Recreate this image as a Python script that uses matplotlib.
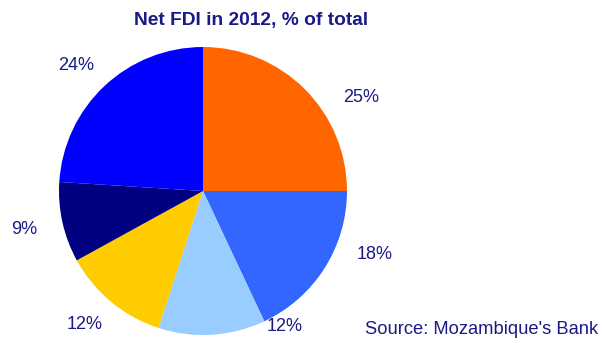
import matplotlib
matplotlib.use('Agg')
import matplotlib.pyplot as plt

plt.rcParams['font.family'] = ['Liberation Sans', 'DejaVu Sans']

shares = [25, 18, 12, 12, 9, 24]
labels = ['25%', '18%', '12%', '12%', '9%', '24%']
colors = ['#FF6600', '#3366FF', '#99CCFF', '#FFCC00', '#000080', '#0000FF']
title = 'Net FDI in 2012, % of total'
source = "Source: Mozambique's Bank"

# label positions in data units (pie radius = 1)
label_pos = [(1.10, 0.65), (1.19, -0.44), (0.57, -0.94),
             (-0.82, -0.93), (-1.24, -0.27), (-0.88, 0.87)]

W, H = 602, 343
fig = plt.figure(figsize=(W / 100, H / 100), dpi=100)
cx, cy, r = 203, 191, 144
ax = fig.add_axes([(cx - r) / W, (H - cy - r) / H, 2 * r / W, 2 * r / H])
ax.pie(shares, colors=colors, startangle=90, counterclock=False, radius=1,
       wedgeprops=dict(linewidth=0))
ax.set_xlim(-1, 1)
ax.set_ylim(-1, 1)
ax.set_aspect('equal')
ax.axis('off')

navy = '#1A1A86'
for lab, (x, y) in zip(labels, label_pos):
    ax.text(x, y, lab, ha='center', va='center', fontsize=13, color=navy, clip_on=False)

fig.text(251 / W, 1 - 21 / H, title, ha='center', va='center', fontsize=13.8,
         fontweight='bold', color=navy)
fig.text(598 / W, 1 - 330 / H, source, ha='right', va='center', fontsize=13.2, color=navy)

fig.savefig('out.png', dpi=100)
